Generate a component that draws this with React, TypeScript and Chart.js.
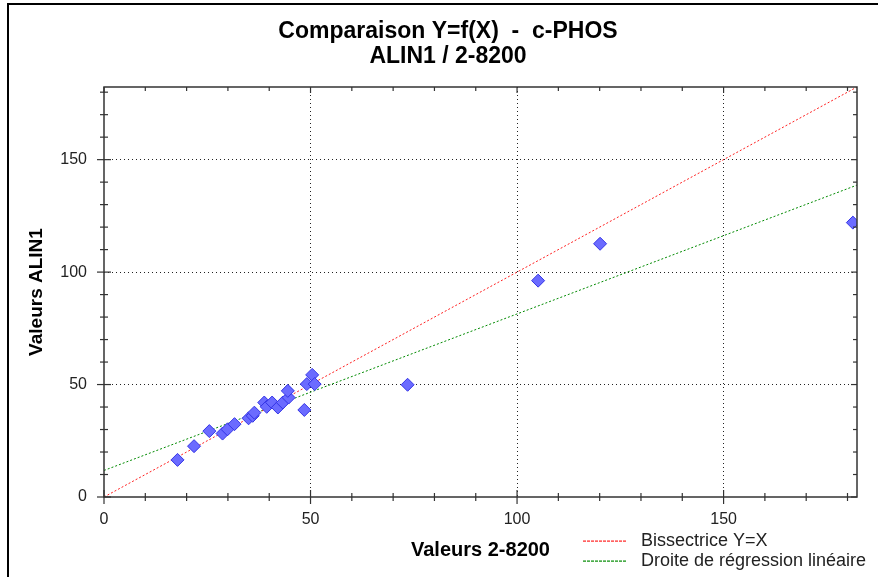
import React, { useEffect, useRef } from 'react';
import { Chart, registerables } from 'chart.js';

Chart.register(...registerables);

// ---- Text ----
const TITLE_LINES = ['Comparaison Y=f(X)  -  c-PHOS', 'ALIN1 / 2-8200'];
const X_TITLE = 'Valeurs 2-8200';
const Y_TITLE = 'Valeurs ALIN1';
const LEGEND_LABELS = ['Bissectrice Y=X', 'Droite de régression linéaire'];

// ---- Data (measured points) ----
const X_VALUES = [17.8, 21.8, 25.5, 28.7, 29.9, 31.6, 35.0, 36.0, 36.4, 38.8, 39.4, 40.7, 42.1, 43.3, 44.7, 44.5, 48.5, 49.1, 50.4, 51.0, 73.5, 105.1, 120.1, 181.3];
const Y_VALUES = [16.5, 22.6, 29.3, 28.2, 30.1, 32.4, 35.0, 36.1, 37.5, 42.0, 40.1, 42.0, 39.8, 42.0, 44.2, 47.2, 38.7, 50.2, 54.3, 50.2, 49.9, 96.2, 112.6, 122.0];

// ---- Axes ----
const AXIS_MIN = 0;
const AXIS_MAX = 182.3;
const MAJOR_STEP = 50;
const MINOR_STEP = 10;

// ---- Regression line (y = a + b x) ----
const REG_INTERCEPT = 11.8;
const REG_SLOPE = 0.696;

const FONT = "'Liberation Sans', Arial, sans-serif";
const RED = '#ff2020';
const GREEN = '#008a00';

const decorPlugin = {
  id: 'decor',
  afterDraw(chart: any) {
    const { ctx, chartArea: a, scales } = chart;
    const x = scales.x;
    const y = scales.y;
    ctx.save();
    ctx.setLineDash([]);
    // outer frame (left and top)
    ctx.fillStyle = '#000';
    ctx.fillRect(7, 3, 2, 600);
    ctx.fillRect(7, 3, 900, 2);

    // axes box
    ctx.strokeStyle = '#333';
    ctx.lineWidth = 1.5;
    ctx.strokeRect(a.left, a.top, a.right - a.left, a.bottom - a.top);

    const seg = (x1: number, y1: number, x2: number, y2: number) => {
      ctx.beginPath();
      ctx.moveTo(x1, y1);
      ctx.lineTo(x2, y2);
      ctx.stroke();
    };
    ctx.lineWidth = 1.2;
    for (let v = AXIS_MIN; v <= AXIS_MAX + 1e-9; v += MINOR_STEP) {
      const major = Math.abs(v % MAJOR_STEP) < 1e-9;
      const len = major ? 7 : 4;
      const px = x.getPixelForValue(v);
      seg(px, a.bottom - len, px, a.bottom + len);
      seg(px, a.top, px, a.top + (major ? 6 : 4));
      const py = y.getPixelForValue(v);
      seg(a.left - len, py, a.left + len, py);
      seg(a.right - (major ? 6 : 4), py, a.right, py);
    }

    // title
    ctx.fillStyle = '#000';
    ctx.textAlign = 'center';
    ctx.textBaseline = 'middle';
    ctx.font = `bold 23px ${FONT}`;
    ctx.fillText(TITLE_LINES[0], 448, 32);
    ctx.fillText(TITLE_LINES[1], 448, 57);

    // axis titles
    ctx.font = `bold 20px ${FONT}`;
    ctx.fillText(X_TITLE, (a.left + a.right) / 2, 550);
    ctx.save();
    ctx.translate(37, (a.top + a.bottom) / 2);
    ctx.rotate(-Math.PI / 2);
    ctx.font = `bold 19px ${FONT}`;
    ctx.fillText(Y_TITLE, 0, 0);
    ctx.restore();

    // legend
    const legendColors = [RED, GREEN];
    const legendY = [541, 561];
    ctx.font = `18px ${FONT}`;
    ctx.textAlign = 'left';
    for (let i = 0; i < LEGEND_LABELS.length; i++) {
      ctx.fillStyle = legendColors[i];
      for (let lx = 583; lx < 625; lx += 4) {
        ctx.fillRect(lx, legendY[i] - 0.5, 3, 1.2);
      }
      ctx.fillStyle = '#222';
      ctx.fillText(LEGEND_LABELS[i], 641, legendY[i]);
    }
    ctx.restore();
  },
};

function makeScale(isX: boolean) {
  return {
    type: 'linear' as const,
    min: AXIS_MIN,
    max: AXIS_MAX,
    afterFit: (s: any) => {
      if (isX) s.height = 80;
      else s.width = 104;
    },
    ticks: {
      stepSize: MAJOR_STEP,
      includeBounds: false,
      color: '#222',
      font: { family: FONT, size: 16 },
      padding: isX ? 13 : 17,
      maxRotation: 0,
    },
    grid: {
      drawTicks: false,
      color: (c: any) => (c.tick && c.tick.value === 0 ? 'rgba(0,0,0,0)' : '#222'),
      lineWidth: 1,
    },
    border: { display: false, dash: [1, 3] },
  };
}

export default function App() {
  const ref = useRef<HTMLCanvasElement | null>(null);
  useEffect(() => {
    if (!ref.current) return;
    const points = X_VALUES.map((v, i) => ({ x: v, y: Y_VALUES[i] }));
    const chart = new Chart(ref.current, {
      type: 'scatter',
      data: {
        datasets: [
          {
            label: 'Points',
            data: points,
            pointStyle: 'rectRot',
            pointRadius: 6.5,
            pointHoverRadius: 6.5,
            backgroundColor: '#6b6bff',
            borderColor: '#3434e6',
            borderWidth: 1,
            clip: 0,
          },
          {
            label: LEGEND_LABELS[0],
            data: [
              { x: AXIS_MIN, y: AXIS_MIN },
              { x: AXIS_MAX, y: AXIS_MAX },
            ],
            showLine: true,
            pointRadius: 0,
            borderColor: RED,
            borderWidth: 1,
            borderDash: [2, 2],
            clip: 0,
          },
          {
            label: LEGEND_LABELS[1],
            data: [
              { x: AXIS_MIN, y: REG_INTERCEPT + REG_SLOPE * AXIS_MIN },
              { x: AXIS_MAX, y: REG_INTERCEPT + REG_SLOPE * AXIS_MAX },
            ],
            showLine: true,
            pointRadius: 0,
            borderColor: GREEN,
            borderWidth: 1,
            borderDash: [2, 2],
            clip: 0,
          },
        ],
      },
      options: {
        responsive: false,
        animation: false,
        events: [],
        layout: { padding: { top: 87, right: 21, left: 0, bottom: 0 } },
        plugins: {
          legend: { display: false },
          title: { display: false },
          tooltip: { enabled: false },
        },
        scales: {
          x: makeScale(true),
          y: makeScale(false),
        },
      },
      plugins: [decorPlugin],
    });
    return () => chart.destroy();
  }, []);
  return (
    <div style={{ position: 'absolute', left: 0, top: 0, width: 878, height: 577, background: '#fff' }}>
      <canvas ref={ref} width={878} height={577} />
    </div>
  );
}
